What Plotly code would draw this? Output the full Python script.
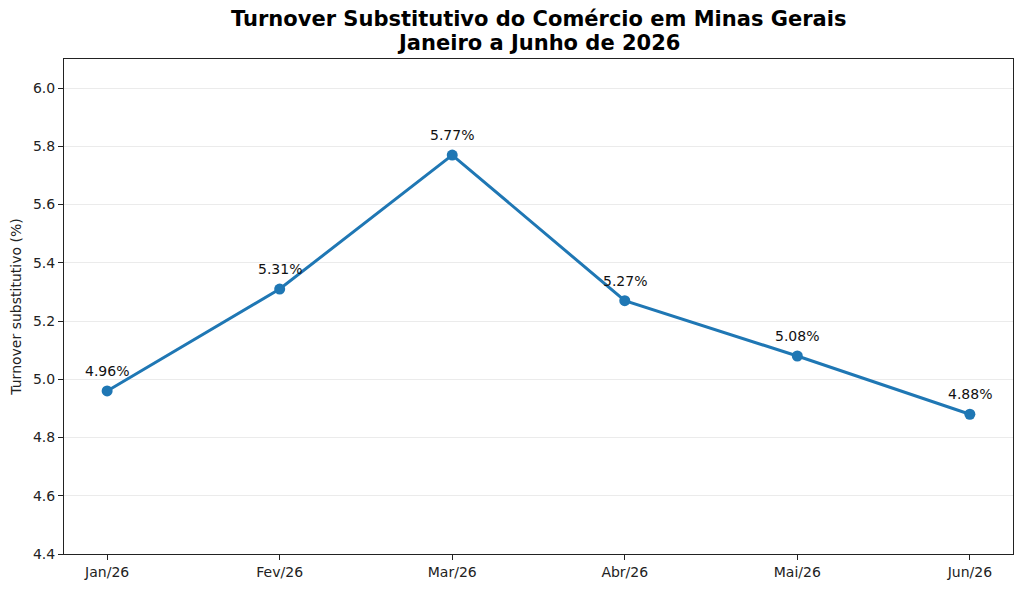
import plotly.graph_objects as go

meses = ["Jan/26", "Fev/26", "Mar/26", "Abr/26", "Mai/26", "Jun/26"]
turnover = [4.96, 5.31, 5.77, 5.27, 5.08, 4.88]
yticks = [4.4, 4.6, 4.8, 5.0, 5.2, 5.4, 5.6, 5.8, 6.0]
titulo = ["Turnover Substitutivo do Comércio em Minas Gerais", "Janeiro a Junho de 2026"]

fig = go.Figure()
fig.add_trace(go.Scatter(
    x=list(range(len(meses))), y=turnover, mode="lines+markers",
    line=dict(color="#1f77b4", width=3),
    marker=dict(color="#1f77b4", size=11),
    hoverinfo="skip",
))

# rótulos de valor acima de cada ponto
for i, v in enumerate(turnover):
    fig.add_annotation(x=i, y=v, text=f"{v:.2f}%", showarrow=False,
                       yanchor="bottom", yshift=10,
                       font=dict(family="DejaVu Sans", size=14, color="#111"))

# título em duas linhas
for k, linha in enumerate(titulo):
    fig.add_annotation(xref="paper", yref="paper", x=0.5, y=1,
                       text=f"<b>{linha}</b>", showarrow=False,
                       xanchor="center", yanchor="middle", yshift=40 - 24 * k,
                       font=dict(family="DejaVu Sans", size=21, color="black"))

fig.update_layout(
    width=1024, height=589,
    margin=dict(l=56, r=19, t=51, b=43),
    paper_bgcolor="white", plot_bgcolor="white",
    showlegend=False,
    font=dict(family="DejaVu Sans", size=14, color="#222"),
)
fig.update_xaxes(
    range=[-0.25, 5.25], tickvals=list(range(len(meses))), ticktext=meses,
    showgrid=False, zeroline=False, automargin=False,
    showline=True, linecolor="#222", linewidth=1, mirror=True,
    ticks="outside", ticklen=5, tickcolor="#222",
)
fig.update_yaxes(
    range=[4.4, 6.1], tickvals=yticks, ticktext=[f"{t:.1f}" for t in yticks],
    showgrid=True, gridcolor="#ebebeb", gridwidth=1, zeroline=False,
    showline=True, linecolor="#222", linewidth=1, mirror=True, automargin=False,
    ticks="outside", ticklen=5, tickcolor="#222",
    title=dict(text="Turnover substitutivo (%)", standoff=8,
               font=dict(family="DejaVu Sans", size=14, color="#222")),
)

fig.write_html("out.html")
